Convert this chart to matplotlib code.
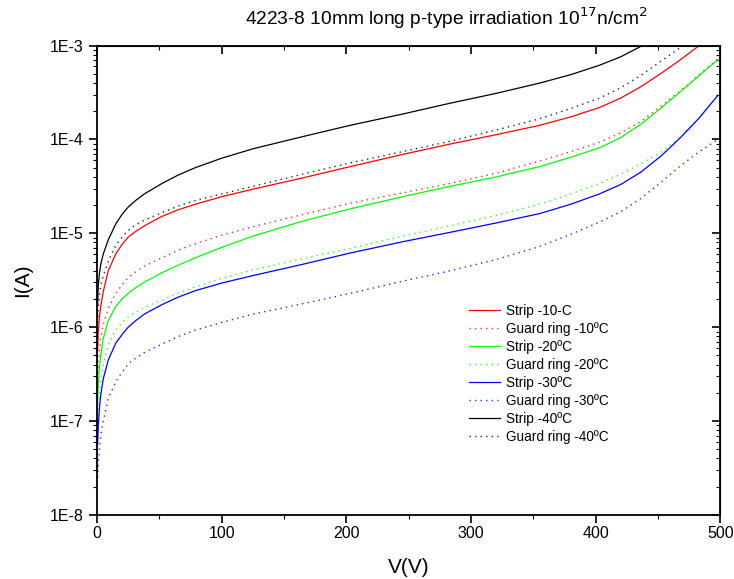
import matplotlib
matplotlib.use("Agg")
import matplotlib.pyplot as plt
from matplotlib.ticker import LogLocator, FuncFormatter, MultipleLocator, NullFormatter
import numpy as np

plt.rcParams["font.family"] = ["Liberation Sans", "DejaVu Sans"]

# bias voltage (V)
volts = [0.5, 1, 2, 3, 5, 9, 15, 20, 25, 31, 38, 52, 65, 79, 100, 125, 165, 203, 245, 283, 320, 355,
         380, 403, 420, 436, 452, 468, 483, 498]

# log10 of current (A)
strip_10 = [-6.25, -6.05, -5.88, -5.78, -5.62, -5.40, -5.22, -5.12, -5.04, -4.98, -4.92, -4.82, -4.75, -4.69,
            -4.61, -4.53, -4.41, -4.29, -4.16, -4.05, -3.95, -3.85, -3.76, -3.66, -3.56, -3.44, -3.30, -3.15,
            -3.0, -2.85]
guard_10 = [-6.55, -6.4, -6.25, -6.12, -5.97, -5.80, -5.64, -5.55, -5.47, -5.41, -5.35, -5.26, -5.18, -5.11,
            -5.02, -4.93, -4.80, -4.68, -4.57, -4.47, -4.36, -4.23, -4.13, -4.03, -3.93, -3.81, -3.65, -3.48,
            -3.31, -3.14]
strip_20 = [-6.8, -6.6, -6.42, -6.3, -6.12, -5.93, -5.78, -5.70, -5.64, -5.58, -5.52, -5.42, -5.34, -5.26,
            -5.15, -5.03, -4.87, -4.74, -4.61, -4.50, -4.40, -4.29, -4.19, -4.09, -3.98, -3.84, -3.67, -3.49,
            -3.32, -3.15]
guard_20 = [-7.0, -6.85, -6.7, -6.58, -6.4, -6.18, -6.03, -5.95, -5.89, -5.84, -5.79, -5.71, -5.64, -5.57,
            -5.48, -5.39, -5.27, -5.16, -5.03, -4.92, -4.81, -4.69, -4.58, -4.47, -4.37, -4.26, -4.14, -3.97,
            -3.77, -3.53]
strip_30 = [-7.25, -7.05, -6.85, -6.72, -6.55, -6.35, -6.17, -6.08, -6.00, -5.93, -5.86, -5.76, -5.68, -5.61,
            -5.53, -5.45, -5.33, -5.21, -5.09, -4.99, -4.89, -4.79, -4.69, -4.58, -4.48, -4.35, -4.18, -3.98,
            -3.77, -3.53]
guard_30 = [-7.6, -7.45, -7.3, -7.15, -7.0, -6.76, -6.58, -6.48, -6.39, -6.33, -6.27, -6.18, -6.10, -6.03,
            -5.95, -5.86, -5.75, -5.64, -5.51, -5.40, -5.28, -5.14, -5.01, -4.88, -4.77, -4.63, -4.46, -4.28,
            -4.13, -4.0]
strip_40 = [-5.75, -5.55, -5.42, -5.33, -5.22, -5.07, -4.90, -4.80, -4.72, -4.65, -4.58, -4.47, -4.38, -4.30,
            -4.20, -4.10, -3.97, -3.85, -3.73, -3.615, -3.51, -3.40, -3.31, -3.21, -3.12, -3.01, -2.9, -2.8,
            -2.7, -2.6]
guard_40 = [-5.95, -5.8, -5.65, -5.55, -5.45, -5.30, -5.13, -5.04, -4.97, -4.91, -4.86, -4.78, -4.71, -4.65,
            -4.58, -4.50, -4.37, -4.25, -4.13, -4.02, -3.90, -3.78, -3.67, -3.56, -3.45, -3.32, -3.17, -3.02,
            -2.88, -2.75]

series = [
    ("Strip -10-C", strip_10, "#ff0000", "-"),
    ("Guard ring -10ºC", guard_10, "#ff0000", ":"),
    ("Strip -20ºC", strip_20, "#00ff00", "-"),
    ("Guard ring -20ºC", guard_20, "#00ff00", ":"),
    ("Strip -30ºC", strip_30, "#0000ff", "-"),
    ("Guard ring -30ºC", guard_30, "#0000ff", ":"),
    ("Strip -40ºC", strip_40, "#000000", "-"),
    ("Guard ring -40ºC", guard_40, "#000000", ":"),
]

fig = plt.figure(figsize=(7.34, 5.79), dpi=100)
ax = fig.add_axes([0.1322, 0.1105, 0.8494, 0.8109])

for label, logi, color, ls in series:
    if ls == ":":
        ax.plot(volts, 10 ** np.array(logi), color=color, ls=(0, (1, 3)), lw=1.0, alpha=0.85, label=label)
    else:
        ax.plot(volts, 10 ** np.array(logi), color=color, ls="-", lw=0.9, label=label)

ax.set_yscale("log")
ax.set_xlim(0, 500)
ax.set_ylim(1e-8, 1e-3)

ax.xaxis.set_major_locator(MultipleLocator(100))
ax.xaxis.set_minor_locator(MultipleLocator(50))
ax.yaxis.set_major_locator(LogLocator(base=10, numticks=10))
ax.yaxis.set_minor_locator(LogLocator(base=10, subs=np.arange(2, 10), numticks=20))
ax.yaxis.set_major_formatter(FuncFormatter(lambda v, p: "1E%d" % round(np.log10(v))))
ax.yaxis.set_minor_formatter(NullFormatter())
ax.tick_params(which="major", direction="out", length=6, width=1.2, labelsize=11.5, colors="black")
ax.tick_params(axis="x", which="major", pad=2)
ax.tick_params(axis="y", which="major", pad=4)
ax.tick_params(which="minor", direction="out", length=3, width=0.8)
for s in ax.spines.values():
    s.set_linewidth(1.3)

# inward ticks on top and right
top = ax.secondary_xaxis("top")
top.xaxis.set_major_locator(MultipleLocator(100))
top.xaxis.set_minor_locator(MultipleLocator(50))
top.tick_params(which="major", direction="in", length=6, width=1.2, labeltop=False)
top.tick_params(which="minor", direction="in", length=3, width=0.8)
right = ax.secondary_yaxis("right")
right.yaxis.set_major_locator(LogLocator(base=10, numticks=10))
right.yaxis.set_minor_locator(LogLocator(base=10, subs=np.arange(2, 10), numticks=20))
right.tick_params(which="major", direction="in", length=6, width=1.2, labelright=False)
right.tick_params(which="minor", direction="in", length=3, width=0.8, labelright=False)

ax.set_xlabel("V(V)", fontsize=15, labelpad=12)
ax.set_ylabel("I(A)", fontsize=15, labelpad=12)
fig.text(0.608, 0.969, "4223-8 10mm long p-type irradiation 10$^{17}$n/cm$^2$",
         ha="center", va="center", fontsize=13.8)

ax.legend(loc="upper left", bbox_to_anchor=(0.588, 0.462), frameon=False, fontsize=9.8,
          handlelength=2.3, labelspacing=0.3, handletextpad=0.4, borderaxespad=0)

fig.savefig("out.png", dpi=100)
